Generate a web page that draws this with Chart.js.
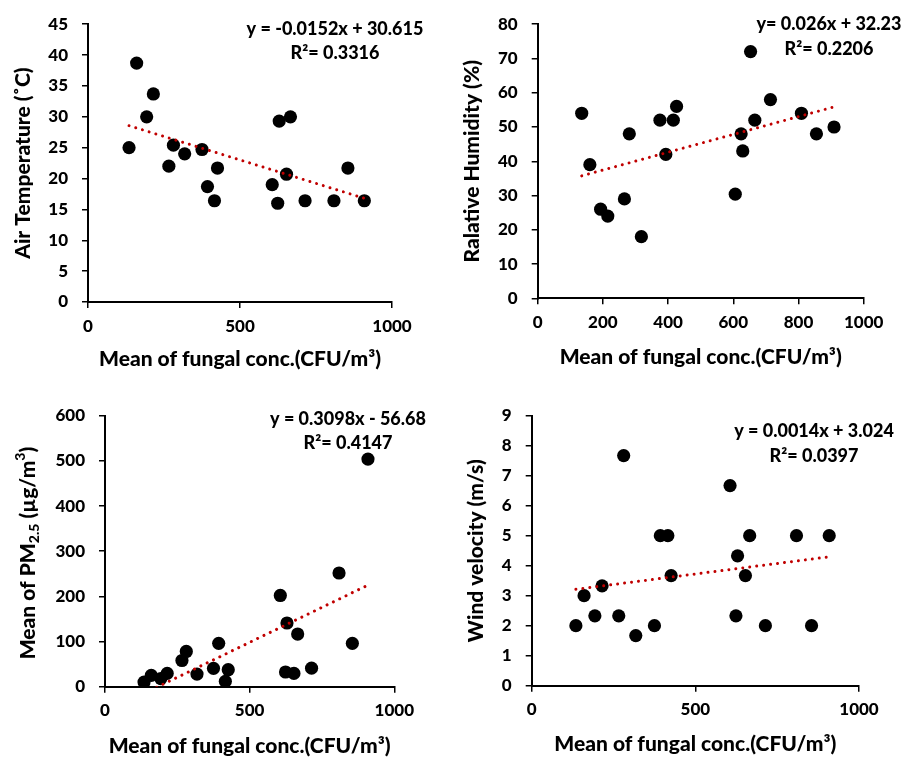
<!DOCTYPE html>
<html><head><meta charset="utf-8">
<script src="https://cdn.jsdelivr.net/npm/chart.js@4"></script>
<style>
html,body{margin:0;padding:0;background:#fff;}
#wrap{position:relative;width:914px;height:757px;overflow:hidden;}
canvas{position:absolute;}
</style></head>
<body><div id="wrap">
<canvas id="c1" width="457" height="378" style="left:0;top:0"></canvas>
<canvas id="c2" width="457" height="378" style="left:457px;top:0"></canvas>
<canvas id="c3" width="457" height="379" style="left:0;top:378px"></canvas>
<canvas id="c4" width="457" height="379" style="left:457px;top:378px"></canvas>
</div>
<script>
// ---- data ----
const fungal   = [135,160,193,215,266,281,318,375,393,416,426,606,624,629,653,666,714,809,855,909];
const airTemp  = [25,38.7,30,33.7,22,25.4,24,24.7,18.7,16.4,21.7,19,16,29.3,20.7,30,16.4,16.4,21.7,16.4];
const humidity = [54,39,26,24,29,48,18,52,42,52,56,30.4,48,43,72,52,58,54,48,50];
const pm25     = [10.3,25,18,29.5,58,78,28,40.6,96,11.8,37.6,202,32.5,141,29.5,116.6,41,251.7,96,504];
const wind     = [2,3,2.33,3.33,2.33,7.67,1.67,2,5,5,3.67,6.67,2.33,4.33,3.67,5,2,5,2,5];

const trendSlope     = [-0.0152, 0.026, 0.3098, 0.0014];
const trendIntercept = [30.615, 32.23, -56.68, 3.024];
const eqLabels = ["y = -0.0152x + 30.615", "y= 0.026x + 32.23", "y = 0.3098x - 56.68", "y = 0.0014x + 3.024"];
const r2Labels = ["R\u00B2= 0.3316", "R\u00B2= 0.2206", "R\u00B2= 0.4147", "R\u00B2= 0.0397"];
const yTitles  = ["Air Temperature (\u02DAC)", "Ralative Humidity (%)", "Mean of PM2.5 (\u00B5g/m3)", "Wind velocity (m/s)"];
const xTitle   = "Mean of fungal conc.(CFU/m\u00B3)";
const yMax  = [45, 80, 600, 9];
const yStep = [5, 10, 100, 1];
const xMax  = [1000, 1000, 1000, 1000];
const xStep = [500, 200, 500, 500];

// ---- layout (canvas-local pixels) ----
const layouts = [
  {L:88,   T:19,   R:392,   B:302,   xtp:8.5,  ytp:12.5, eq:[335,29,53]},
  {L:80.7, T:19,   R:406.7, B:298.3, xtp:10.5, ytp:4.5,  eq:[372,24,49]},
  {L:105,  T:37.7, R:394.3, B:308.7, xtp:0,    ytp:17,   eq:[348,41.3,65.3]},
  {L:74.7, T:37.7, R:402,   B:307.7, xtp:2.5,  ytp:9.2,  eq:[357,53,77.7]}
];
const FAMILY = "Lato, 'Open Sans', sans-serif";
const WEIGHT = 900;
const tickFont  = {family: FAMILY, weight: WEIGHT, size: 17};
const titleFont = {family: FAMILY, weight: WEIGHT, size: 21, lineHeight: 1};

const eqPlugin = {
  id: 'eq',
  afterDraw(chart, args, opts) {
    const ctx = chart.ctx;
    ctx.save();
    ctx.fillStyle = '#000';
    ctx.font = WEIGHT + " 18px " + FAMILY;
    ctx.textAlign = 'center';
    ctx.textBaseline = 'middle';
    ctx.fillText(opts.line1, opts.x, opts.y1);
    ctx.fillText(opts.line2, opts.x, opts.y2);
    if (opts.pmTitle) {
      // custom rotated y title with subscript / superscript
      const segs = [
        {t: "Mean of PM", s: 21, dy: 0},
        {t: "2.5", s: 14, dy: 6},
        {t: " (\u00B5g/m", s: 21, dy: 0},
        {t: "3", s: 14, dy: -8},
        {t: ")", s: 21, dy: 0}
      ];
      let total = 0;
      segs.forEach(g => { ctx.font = WEIGHT + " " + g.s + "px " + FAMILY; g.w = ctx.measureText(g.t).width; total += g.w; });
      ctx.translate(opts.pmTitle.x, opts.pmTitle.y);
      ctx.rotate(-Math.PI / 2);
      ctx.textAlign = 'left';
      let cx = -total / 2;
      segs.forEach(g => { ctx.font = WEIGHT + " " + g.s + "px " + FAMILY; ctx.fillText(g.t, cx, g.dy); cx += g.w; });
    }
    ctx.restore();
  }
};

const seriesList = [airTemp, humidity, pm25, wind];

function makeChart(i) {
  const canvas = document.getElementById('c' + (i + 1));
  const W = canvas.width, H = canvas.height;
  const lay = layouts[i];
  const ys = seriesList[i];
  const ends = [Math.min(...fungal), Math.max(...fungal)];
  const trend = ends.map(x => ({x: x, y: trendSlope[i] * x + trendIntercept[i]}));
  const pts = fungal.map((x, k) => ({x: x, y: ys[k]}));
  const isPM = (i === 2);
  const plain = v => String(v);
  new Chart(canvas, {
    type: 'scatter',
    data: {datasets: [
      {data: trend, showLine: true, borderColor: '#C00000', borderWidth: 3,
       borderDash: [0.01, 7], borderCapStyle: 'round', pointRadius: 0, fill: false},
      {data: pts, pointRadius: 6.6, pointBackgroundColor: '#000', backgroundColor: '#000',
       borderColor: '#000', pointBorderWidth: 0}
    ]},
    options: {
      responsive: false, animation: false, events: [], devicePixelRatio: 1,
      layout: {padding: {left: 0, top: lay.T, right: W - lay.R, bottom: 0}},
      plugins: {
        legend: {display: false}, tooltip: {enabled: false},
        eq: {line1: eqLabels[i], line2: r2Labels[i], x: lay.eq[0], y1: lay.eq[1], y2: lay.eq[2],
             pmTitle: isPM ? {x: 28, y: 175} : null}
      },
      scales: {
        x: {
          type: 'linear', min: 0, max: xMax[i],
          ticks: {stepSize: xStep[i], font: tickFont, color: '#000', padding: 8, maxRotation: 0, autoSkip: false, callback: plain},
          grid: {drawOnChartArea: false, drawTicks: true, tickLength: 6, color: '#000', lineWidth: 1.5},
          border: {color: '#000', width: 2},
          title: {display: true, text: xTitle, font: titleFont, color: '#000', padding: {top: 0, bottom: lay.xtp}},
          afterFit(s) { s.height = H - lay.B; }
        },
        y: {
          type: 'linear', min: 0, max: yMax[i],
          ticks: {stepSize: yStep[i], font: tickFont, color: '#000', padding: 14, autoSkip: false, callback: plain},
          grid: {drawOnChartArea: false, drawTicks: true, tickLength: 6, color: '#000', lineWidth: 1.5},
          border: {color: '#000', width: 2},
          title: {display: !isPM, text: yTitles[i], font: titleFont, color: '#000', padding: {top: lay.ytp, bottom: 0}},
          afterFit(s) { s.width = lay.L; }
        }
      }
    },
    plugins: [eqPlugin]
  });
}
[0, 1, 2, 3].forEach(makeChart);
</script>
</body></html>
